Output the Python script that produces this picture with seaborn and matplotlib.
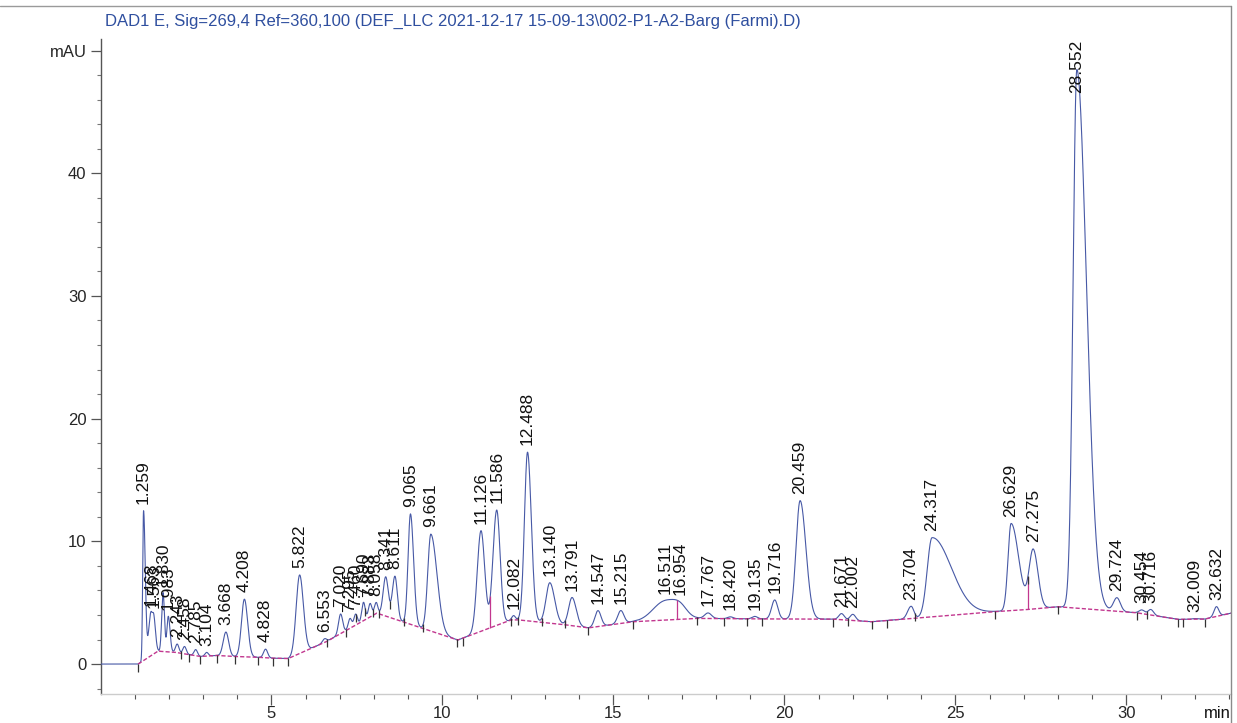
import numpy as np
import pandas as pd
import matplotlib
matplotlib.use("Agg")
import matplotlib.pyplot as plt
from matplotlib.lines import Line2D
from matplotlib.ticker import MultipleLocator, FixedLocator
import seaborn as sns

TITLE = r"DAD1 E, Sig=269,4 Ref=360,100 (DEF_LLC 2021-12-17 15-09-13\002-P1-A2-Barg (Farmi).D)"

# Peak table: retention time (min), height above baseline (mAU),
# leading / trailing peak width (min)
rt = [1.259, 1.468, 1.563, 1.830, 1.983, 2.243, 2.458, 2.785, 3.104, 3.668,
      4.208, 4.828, 5.822, 6.553, 7.020, 7.295, 7.460, 7.690, 7.883, 8.058,
      8.341, 8.611, 9.065, 9.661, 11.126, 11.586, 12.082, 12.488, 13.140, 13.791,
      14.547, 15.215, 16.511, 16.954, 17.767, 18.420, 19.135, 19.716, 20.459, 21.671,
      22.002, 23.704, 24.317, 26.629, 27.275, 28.552, 29.724, 30.454, 30.716, 32.009,
      32.632]
height = [12.2, 3.4, 2.6, 4.8, 2.9, 0.7, 0.6, 0.5, 0.3, 1.95,
          4.7, 0.7, 6.4, 0.3, 1.6, 0.8, 0.9, 1.5, 1.1, 0.9,
          3.2, 3.5, 9.0, 7.9, 8.2, 9.4, 0.35, 13.75, 3.3, 2.3,
          1.3, 1.05, 1.55, 0.7, 0.45, 0.15, 0.2, 1.55, 9.65, 0.5,
          0.5, 1.0, 6.45, 7.1, 4.8, 43.9, 1.1, 0.3, 0.45, 0.05,
          0.8]
width_lead = [0.025, 0.06, 0.04, 0.04, 0.04, 0.05, 0.05, 0.05, 0.05, 0.08,
              0.085, 0.06, 0.10, 0.06, 0.06, 0.05, 0.05, 0.05, 0.05, 0.05,
              0.075, 0.075, 0.07, 0.09, 0.11, 0.11, 0.05, 0.09, 0.11, 0.10,
              0.09, 0.09, 0.35, 0.20, 0.10, 0.08, 0.08, 0.09, 0.12, 0.08,
              0.08, 0.10, 0.14, 0.09, 0.12, 0.11, 0.10, 0.08, 0.08, 0.08,
              0.07]
width_tail = [0.05, 0.05, 0.05, 0.04, 0.05, 0.05, 0.05, 0.05, 0.05, 0.08,
              0.095, 0.06, 0.11, 0.06, 0.06, 0.05, 0.05, 0.05, 0.05, 0.05,
              0.075, 0.07, 0.09, 0.18, 0.11, 0.10, 0.05, 0.11, 0.14, 0.12,
              0.09, 0.09, 0.35, 0.20, 0.10, 0.08, 0.08, 0.09, 0.17, 0.08,
              0.08, 0.08, 0.56, 0.22, 0.14, 0.28, 0.10, 0.08, 0.08, 0.08,
              0.07]

# Detector baseline / integration baseline (min, mAU)
base_t = [1.10, 1.68, 2.20, 2.92, 3.40, 3.92, 4.62, 5.04, 5.49, 6.62,
          8.08, 10.45, 12.01, 12.22, 12.90, 13.59, 14.27, 15.58, 17.44, 19.34,
          21.42, 22.55, 23.00, 26.16, 27.12, 28.01, 30.30, 31.52, 32.30, 33.06]
base_v = [0.00, 1.05, 0.95, 0.62, 0.70, 0.62, 0.55, 0.48, 0.45, 1.85,
          4.15, 1.96, 3.60, 3.60, 3.40, 3.20, 2.95, 3.45, 3.72, 3.68,
          3.66, 3.45, 3.55, 4.27, 4.45, 4.67, 4.18, 3.64, 3.67, 4.15]

# Integration event marks and perpendicular drops (min)
event_t = [1.10, 2.36, 2.59, 2.92, 3.40, 3.92, 4.62, 5.04, 5.49, 6.62,
           7.17, 7.48, 7.74, 7.98, 8.14, 8.47, 8.88, 9.43, 10.42, 10.60,
           12.01, 12.22, 12.90, 13.59, 14.27, 15.58, 17.44, 18.22, 18.90, 19.34,
           21.42, 21.87, 22.55, 22.99, 23.82, 26.16, 27.12, 28.01, 30.30, 30.60,
           31.52, 31.67, 32.30]
drop_t = [1.70, 11.40, 12.90, 13.59, 16.85, 27.12]

# ---- signal -------------------------------------------------------------
t = np.linspace(0.0, 33.06, 8000)
drift_t = [0.0] + base_t
drift_v = [0.0] + base_v
signal = np.interp(t, drift_t, drift_v)
for r, h, sl, sr in zip(rt, height, width_lead, width_tail):
    s = np.where(t < r, sl, sr)
    signal = signal + h * np.exp(-0.5 * ((t - r) / s) ** 2)

trace = pd.DataFrame({"time": t, "mAU": signal})
baseline = pd.DataFrame({"time": base_t, "mAU": base_v})

def level(x):
    return np.interp(x, t, signal)

# ---- figure -------------------------------------------------------------
sns.set_style("white")
plt.rcParams["font.family"] = ["Liberation Sans", "DejaVu Sans"]

W, H = 1237, 723
fig = plt.figure(figsize=(W / 100, H / 100), dpi=100)
ax_left, ax_right, ax_bottom, ax_top = 100.5, 1231, 694, 39
ax = fig.add_axes([ax_left / W, 1 - ax_bottom / H,
                   (ax_right - ax_left) / W, (ax_bottom - ax_top) / H])

XMIN, XMAX = 0.0, 33.06
YMIN, YMAX = -2.44, 50.94

sns.lineplot(data=trace, x="time", y="mAU", ax=ax, estimator=None,
             color="#4759a6", lw=0.8, zorder=3)
sns.lineplot(data=baseline, x="time", y="mAU", ax=ax, estimator=None,
             color="#c2378f", lw=1.0, linestyle=(0, (3, 1.5)), zorder=4)

# perpendicular drops
ax.vlines(drop_t, np.interp(drop_t, base_t, base_v), level(drop_t),
          color="#c2378f", lw=0.9, zorder=4)

# integration event marks
ev = np.array(event_t)
ax.plot(ev, level(ev) - 0.3, ls="none", marker="|", ms=6, mew=0.9,
        color="#333333", zorder=5)

# peak labels
for r in rt:
    y = level(r)
    if y + 5 > YMAX:
        ax.text(r, YMAX - 0.05, f"{r:.3f}", rotation=90, ha="center",
                va="top", fontsize=12.5, color="#111111", zorder=6)
    else:
        ax.text(r, y + 0.55, f"{r:.3f}", rotation=90, ha="center",
                va="bottom", fontsize=12.5, color="#111111", zorder=6)

ax.set_xlim(XMIN, XMAX)
ax.set_ylim(YMIN, YMAX)
ax.set_xlabel("")
ax.set_ylabel("")

ax.set_xticks([5, 10, 15, 20, 25, 30])
ax.xaxis.set_minor_locator(FixedLocator([i for i in range(1, 34) if i % 5]))
ax.set_yticks([0, 10, 20, 30, 40, 50])
ax.set_yticklabels(["0", "10", "20", "30", "40", "mAU"])
ax.yaxis.set_minor_locator(MultipleLocator(2))

ax.tick_params(axis="x", which="major", length=8, width=0.9, color="#555555",
               labelsize=12, pad=0.5, direction="out", bottom=True)
ax.tick_params(axis="x", which="minor", length=3.6, width=0.8, color="#555555",
               direction="out", bottom=True)
ax.tick_params(axis="y", which="major", length=7, width=0.9, color="#555555",
               labelsize=12, pad=3, direction="out", left=True)
ax.tick_params(axis="y", which="minor", length=3, width=0.8, color="#777777",
               direction="out", left=True)

for side in ("top", "right"):
    ax.spines[side].set_visible(False)
ax.spines["left"].set_color("#555555")
ax.spines["left"].set_linewidth(1.0)
ax.spines["bottom"].set_color("#cccccc")
ax.spines["bottom"].set_linewidth(1.0)

ax.annotate("min", xy=(32.65, 0), xycoords=("data", "axes fraction"),
            xytext=(0, -8.6), textcoords="offset points",
            ha="center", va="top", fontsize=12, color="#111111")

# outer frame: top rule and right edge
fig.add_artist(Line2D([0, ax_right / W], [1 - 6 / H, 1 - 6 / H],
                      transform=fig.transFigure, color="#9a9a9a", lw=1.0))
fig.add_artist(Line2D([ax_right / W, ax_right / W], [0, 1 - 6 / H],
                      transform=fig.transFigure, color="#8a8a8a", lw=1.0))

fig.text(105 / W, 1 - 21 / H, TITLE, color="#2f4f9f", fontsize=12,
         ha="left", va="center")

fig.savefig("out.png", dpi=100)
